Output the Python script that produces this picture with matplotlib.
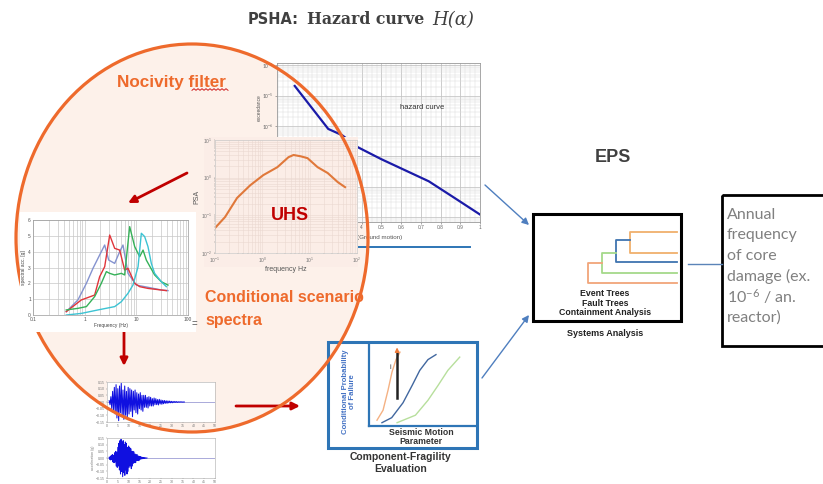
import numpy as np
import matplotlib.pyplot as plt
from matplotlib.patches import Ellipse, Rectangle, FancyArrowPatch
from matplotlib.ticker import MultipleLocator, NullFormatter, LogLocator

plt.rcParams['font.family'] = ['Liberation Sans', 'DejaVu Sans']
plt.rcParams['mathtext.fontset'] = 'custom'
plt.rcParams['mathtext.rm'] = 'Lato'
plt.rcParams['mathtext.it'] = 'Lato:italic'
plt.rcParams['mathtext.bf'] = 'Lato:bold'

# ---- data ----
# hazard curve: ground motion [g] vs annual frequency of exceedance
haz_gm = [0.06, 0.23, 0.30, 0.38, 0.50, 0.74, 0.86, 1.0]
haz_exc = [2.1e-5, 8e-7, 5e-7, 2e-7, 8e-8, 1.5e-8, 4.7e-9, 1.2e-9]
haz_ticks = [0.4, 0.5, 0.6, 0.7, 0.8, 0.9, 1.0]
haz_ticklabels = ['4', '0.5', '0.6', '0.7', '0.8', '0.9', '1']
haz_decades = [1e-9, 1e-8, 1e-7, 1e-6, 1e-5, 1e-4]
haz_decade_labels = ['', '', '', r'$10^{-6}$', r'$10^{-5}$', r'$10^{-4}$']

# uniform hazard spectrum
uhs_freq = [0.1, 0.163, 0.293, 0.556, 1.05, 2.08, 3.57, 4.56, 6.42, 9.0, 14.7, 24.0, 39.3, 56.0]
uhs_psa = [0.046, 0.09, 0.29, 0.63, 1.17, 1.9, 3.5, 4.0, 3.7, 3.3, 1.9, 1.33, 0.76, 0.56]

# conditional scenario spectra (4 scenarios)
spec_f1 = [0.44, 0.74, 1.08, 1.45, 1.95, 2.44, 2.92, 3.81, 4.76, 5.52, 6.90, 10.0, 16.8, 30.5, 41.0]
spec_a1 = [0.21, 0.95, 2.0, 2.95, 3.79, 4.42, 3.47, 3.26, 4.0, 4.42, 2.63, 1.89, 1.75, 1.58, 1.54]
spec_f2 = [0.44, 0.86, 1.56, 1.95, 2.44, 3.05, 3.81, 4.76, 5.52, 5.94, 6.90, 9.29, 11.6, 16.8, 38.1]
spec_a2 = [0.21, 0.95, 1.26, 2.42, 3.05, 5.05, 4.21, 4.1, 3.26, 2.84, 2.95, 2.0, 1.79, 1.68, 1.54]
spec_f3 = [0.44, 0.74, 1.08, 1.56, 2.10, 2.63, 3.05, 3.81, 5.13, 5.94, 7.43, 9.29, 11.6, 13.5, 15.6, 22.6, 30.5, 41.0]
spec_a3 = [0.32, 0.42, 0.53, 1.16, 2.0, 2.74, 2.63, 2.53, 2.63, 2.53, 5.58, 4.32, 3.68, 4.1, 3.47, 2.53, 2.1, 1.89]
spec_f4 = [0.44, 0.86, 1.81, 3.81, 5.13, 6.90, 8.61, 10.8, 12.5, 14.5, 16.8, 19.5, 22.6, 30.5, 38.1]
spec_a4 = [0.0, 0.1, 0.32, 0.53, 0.84, 1.37, 1.89, 3.05, 5.16, 4.95, 4.32, 3.26, 2.63, 2.1, 1.79]
spec_colors = ['#8593cf', '#e0353a', '#35b158', '#3cc3d3']

# accelerograms (g), sampled every dt seconds
acc1_dt = 0.4
acc1 = [0.01, -0.02, 0.04, -0.05, 0.08, -0.06, 0.11, -0.09, 0.13, -0.12, 0.10, -0.14, 0.12, -0.08,
        0.14, -0.11, 0.09, -0.13, 0.12, -0.10, 0.08, -0.12, 0.11, -0.09, 0.10, -0.07, 0.09, -0.11,
        0.08, -0.06, 0.09, -0.08, 0.07, -0.09, 0.06, -0.05, 0.07, -0.06, 0.05, -0.07, 0.05, -0.04,
        0.05, -0.04, 0.035, -0.045, 0.04, -0.03, 0.035, -0.03, 0.025, -0.03, 0.03, -0.02, 0.025,
        -0.02, 0.018, -0.022, 0.02, -0.015, 0.015, -0.017, 0.012, -0.013, 0.011, -0.01, 0.009,
        -0.01, 0.008, -0.007, 0.007, -0.006, 0.005, -0.006, 0.004, -0.004, 0.004, -0.003, 0.003,
        -0.003, 0.002, -0.002, 0.002, -0.001, 0.001, -0.001, 0.0, 0.0]
acc2_dt = 0.25
acc2 = [0.005, -0.01, 0.01, -0.015, 0.02, -0.01, 0.025, -0.03, 0.02, -0.035, 0.04, -0.03, 0.05,
        -0.06, 0.045, -0.07, 0.08, -0.06, 0.11, -0.09, 0.13, -0.12, 0.14, -0.10, 0.12, -0.14, 0.13,
        -0.11, 0.10, -0.13, 0.12, -0.09, 0.11, -0.12, 0.08, -0.1, 0.09, -0.07, 0.08, -0.06, 0.07,
        -0.08, 0.05, -0.06, 0.05, -0.04, 0.045, -0.035, 0.03, -0.035, 0.025, -0.02, 0.025, -0.018,
        0.015, -0.02, 0.012, -0.01, 0.01, -0.008, 0.007, -0.006, 0.005, -0.004, 0.003, -0.003,
        0.002, -0.002, 0.001, -0.001, 0.0]

# fragility curves: seismic motion parameter vs conditional probability of failure
frag_x1 = [0.074, 0.13, 0.176, 0.213, 0.25, 0.287]
frag_p1 = [0.07, 0.19, 0.43, 0.65, 0.80, 0.89]
frag_x2 = [0.12, 0.21, 0.315, 0.40, 0.47, 0.546, 0.62]
frag_p2 = [0.04, 0.10, 0.28, 0.49, 0.67, 0.80, 0.86]
frag_x3 = [0.26, 0.43, 0.546, 0.64, 0.73, 0.84]
frag_p3 = [0.04, 0.13, 0.31, 0.49, 0.67, 0.83]

annual_lines = ['Annual', 'frequency', 'of core', 'damage (ex.', r'10$^{-6}$ / an.', 'reactor)']

# ---- figure in pixel coordinates ----
W, H = 823, 484
fig = plt.figure(figsize=(W / 100, H / 100), dpi=100)
ax = fig.add_axes([0, 0, 1, 1])
ax.set_xlim(0, W)
ax.set_ylim(H, 0)
ax.axis('off')


def inset(x0, y0, x1, y1):
    return fig.add_axes([x0 / W, 1 - y1 / H, (x1 - x0) / W, (y1 - y0) / H])


def overlay():
    o = fig.add_axes([0, 0, 1, 1])
    o.set_xlim(0, W)
    o.set_ylim(H, 0)
    o.axis('off')
    o.patch.set_alpha(0)
    return o


def arrow(p0, p1, color, lw=2.0, ms=11):
    ax.add_patch(FancyArrowPatch(p0, p1, arrowstyle='-|>', mutation_scale=ms,
                                 color=color, lw=lw, shrinkA=0, shrinkB=0))


orange = '#ee6a2c'
darkred = '#c00000'
blue = '#2e75b6'

# circle fill
circ = dict(xy=(192, 238), width=352, height=388)
ax.add_patch(Ellipse(**circ, facecolor='#fdf1ea', edgecolor='none'))

# title
ax.text(248, 20, 'PSHA:', fontsize=10.5, fontweight='bold', color='#404040', va='center',
        family='DejaVu Sans')
ax.text(307, 20, 'Hazard curve', fontsize=11.3, fontweight='bold', color='#404040', va='center',
        family='DejaVu Serif')
ax.text(432, 20, 'H(α)', fontsize=13, style='italic', color='#404040', va='center',
        family='DejaVu Serif')

ax.text(117, 82, 'Nocivity filter', fontsize=12.3, fontweight='bold', color=orange, va='center')
ax.plot(np.linspace(192, 228, 19), 89.5 + 0.8 * np.tile([1, -1], 10)[:19], color='#d02020', lw=0.7)

ax.text(205, 298, 'Conditional scenario', fontsize=11.5, fontweight='bold', color=orange, va='center')
ax.text(205, 320, 'spectra', fontsize=11.5, fontweight='bold', color=orange, va='center')

# red arrows
arrow((187, 173), (128, 203), darkred)
arrow((124, 327), (124, 366), darkred)
arrow((236, 406), (300, 406), darkred)

# blue arrows
arrow((485, 185), (529, 225), '#4f7fbf', lw=1.0, ms=10)
arrow((482, 378), (529, 315), '#4f7fbf', lw=1.0, ms=10)

# fragility box
ax.add_patch(Rectangle((328, 342), 149, 106, fill=False, edgecolor=blue, lw=2.2))
ax.text(349, 392, 'Conditional Probability\nof Failure', rotation=90, fontsize=5.6, fontweight='bold',
        color='#4472c4', ha='center', va='center', linespacing=1.0)
ax.text(421, 437, 'Seismic Motion\nParameter', fontsize=6.3, fontweight='bold', color='#333333',
        ha='center', va='center', linespacing=0.95)
ax.text(401, 463, 'Component-Fragility\nEvaluation', fontsize=7.5, fontweight='bold', color='#333333',
        ha='center', va='center', linespacing=1.15)

# EPS / systems analysis
ax.text(613, 158, 'EPS', fontsize=13, fontweight='bold', color='#404040', ha='center', va='center')
ax.add_patch(Rectangle((533, 214), 148, 107, fill=False, edgecolor='black', lw=2.2))
tree_x = [630, 616, 602, 588]
tree_top = [232, 240, 253, 263]
tree_bot = [253, 262, 273, 283]
tree_col = ['#f0b06c', '#3f74b0', '#a5d98a', '#f1a57a']
for i, (tx, t0, t1, c) in enumerate(zip(tree_x, tree_top, tree_bot, tree_col)):
    x_start = 677 if i == 0 else tree_x[i - 1]
    ax.plot([x_start, tx, tx, 677], [t0, t0, t1, t1], color=c, lw=1.3)
ax.text(605, 293, 'Event Trees', fontsize=6.3, fontweight='bold', color='#222222', ha='center', va='center')
ax.text(605, 303, 'Fault Trees', fontsize=6.3, fontweight='bold', color='#222222', ha='center', va='center')
ax.text(605, 312.5, 'Containment Analysis', fontsize=6.3, fontweight='bold', color='#222222',
        ha='center', va='center')
ax.text(605, 333, 'Systems Analysis', fontsize=6.5, fontweight='bold', color='#222222',
        ha='center', va='center')
ax.plot([688, 722], [264, 264], color='#5b84b8', lw=1.0)

ax.add_patch(Rectangle((722, 195), 104, 151, fill=False, edgecolor='black', lw=2.0))
for k, line in enumerate(annual_lines):
    ax.text(727, 215 + 20.5 * k, line, fontsize=11.5, color='#808080', va='center', family='Lato')

# hazard curve chart
hz = inset(277, 63, 480, 222)
hz.set_facecolor('white')
hz.plot(haz_gm, haz_exc, color='#1a1aa8', lw=1.6)
hz.set_yscale('log')
hz.set_xlim(-0.03, 1.0)
hz.set_ylim(6.8e-10, 1.2e-4)
hz.xaxis.set_minor_locator(MultipleLocator(0.025))
hz.set_xticks(haz_ticks, haz_ticklabels)
hz.set_yticks(haz_decades, haz_decade_labels)
hz.yaxis.set_minor_locator(LogLocator(base=10, subs=np.arange(2, 10)))
hz.yaxis.set_minor_formatter(NullFormatter())
hz.grid(True, which='major', color='#b8b8b8', lw=0.5)
hz.grid(True, which='minor', color='#dddddd', lw=0.35)
hz.tick_params(labelsize=3.5, length=1.5, width=0.4, pad=1, colors='#666666')
hz.tick_params(which='minor', length=0)
for s in hz.spines.values():
    s.set_color('#999999')
    s.set_linewidth(0.6)
hz.text(0.714, 0.717, 'hazard curve', transform=hz.transAxes, fontsize=5.5, color='#333333',
        ha='center', va='center')
hz.set_ylabel('exceedance', fontsize=3.5, color='#555555')
hz.yaxis.set_label_coords(-0.075, 0.72)
ax.text(357, 238, '(Ground motion)', fontsize=4.5, color='#555555', va='center')
ax.plot([357, 470], [247, 247], color=blue, lw=1.4)

# UHS panel
up = inset(204, 137, 358, 267)
up.set_facecolor('#fbede7')
up.set_xticks([])
up.set_yticks([])
for s in up.spines.values():
    s.set_visible(False)
uh = inset(215, 140, 357, 253)
uh.set_facecolor('#fbede7')
uh.plot(uhs_freq, uhs_psa, color='#e0783a', lw=1.5)
uh.set_xscale('log')
uh.set_yscale('log')
uh.set_xlim(0.1, 100)
uh.set_ylim(0.01, 10)
uh.grid(True, which='both', color='#ead8d0', lw=0.4)
uh.tick_params(which='both', labelsize=3.5, length=1, width=0.3, pad=1, colors='#777777')
uh.xaxis.set_minor_formatter(NullFormatter())
uh.yaxis.set_minor_formatter(NullFormatter())
for s in uh.spines.values():
    s.set_color('#cccccc')
    s.set_linewidth(0.5)
uh.set_ylabel('PSA', fontsize=5, labelpad=0.5, color='#555555')
uh.set_xlabel('frequency Hz', fontsize=5, labelpad=1, color='#555555')
uh.text(0.53, 0.33, 'UHS', transform=uh.transAxes, fontsize=13, fontweight='bold', color=darkred,
        ha='center', va='center')

# accelerograms
for (y0, y1, acc, dt, t0) in [(382, 422, acc1, acc1_dt, 1.0), (438, 478, acc2, acc2_dt, 1.0)]:
    sa = inset(107, y0, 215, y1)
    sa.set_facecolor('white')
    t = t0 + dt * np.arange(len(acc))
    sa.axhline(0, color='#8888cc', lw=0.5)
    sa.plot(t, acc, color='#1010e0', lw=0.75)
    sa.set_xlim(0, 50)
    sa.set_ylim(-0.15, 0.15)
    sa.xaxis.set_major_locator(MultipleLocator(5))
    sa.yaxis.set_major_locator(MultipleLocator(0.05))
    sa.tick_params(labelsize=2.5, length=1, width=0.3, pad=0.5, colors='#777777')
    for s in sa.spines.values():
        s.set_color('#aaaaaa')
        s.set_linewidth(0.4)
sa.set_ylabel('acceleration (g)', fontsize=2.5, labelpad=1, color='#777777')

# fragility curves
fr = inset(369, 343, 477, 426)
fr.patch.set_alpha(0)
fr.plot(frag_x1, frag_p1, color='#f4b183', lw=1.0)
fr.plot(frag_x2, frag_p2, color='#41679f', lw=1.0)
fr.plot(frag_x3, frag_p3, color='#b7df9c', lw=1.0)
fr.plot([0.26, 0.26], [0.34, 0.88], color='#222222', lw=1.8)
fr.annotate('', xy=(0.26, 0.98), xytext=(0.26, 0.86),
            arrowprops=dict(arrowstyle='-|>', color='#ee7b3a', lw=1.0, mutation_scale=6))
fr.text(0.2, 0.7, 'i', fontsize=5, color='#333333', ha='center', va='center')
fr.set_xlim(0, 1)
fr.set_ylim(0, 1)
fr.set_xticks([])
fr.set_yticks([])
fr.spines['top'].set_visible(False)
fr.spines['right'].set_visible(False)
for side in ['left', 'bottom']:
    fr.spines[side].set_color(blue)
    fr.spines[side].set_linewidth(1.6)

# circle outline on top of the charts
ov = overlay()
ov.add_patch(Ellipse(**circ, facecolor='none', edgecolor=orange, lw=2.3))

# conditional scenario spectra chart (white image over the circle)
sp_bg = inset(20, 212, 196, 332)
sp_bg.set_facecolor('white')
sp_bg.set_xticks([])
sp_bg.set_yticks([])
for s in sp_bg.spines.values():
    s.set_visible(False)
sp = inset(33, 220, 188, 315)
for fx, ay, c in zip([spec_f1, spec_f2, spec_f3, spec_f4], [spec_a1, spec_a2, spec_a3, spec_a4], spec_colors):
    sp.plot(fx, ay, color=c, lw=1.0)
sp.set_xscale('log')
sp.set_xlim(0.1, 100)
sp.set_ylim(0, 6)
sp.set_xticks([0.1, 1, 10, 100], ['0.1', '1', '10', '100'])
sp.xaxis.set_minor_formatter(NullFormatter())
sp.yaxis.set_major_locator(MultipleLocator(1))
sp.grid(True, which='both', color='#c8c8c8', lw=0.5)
sp.tick_params(which='both', labelsize=3.5, length=0, pad=1.5, colors='#555555')
for s in sp.spines.values():
    s.set_color('#999999')
    s.set_linewidth(0.5)
sp.set_xlabel('Frequency (Hz)', fontsize=3.5, labelpad=1, color='#444444')
sp.set_ylabel('spectral acc. [g]', fontsize=3.5, labelpad=1.5, color='#444444')
ov2 = overlay()
ov2.text(194, 324, '=', fontsize=7, color='#555555', ha='center', va='center')

fig.savefig('out.png', dpi=100)
